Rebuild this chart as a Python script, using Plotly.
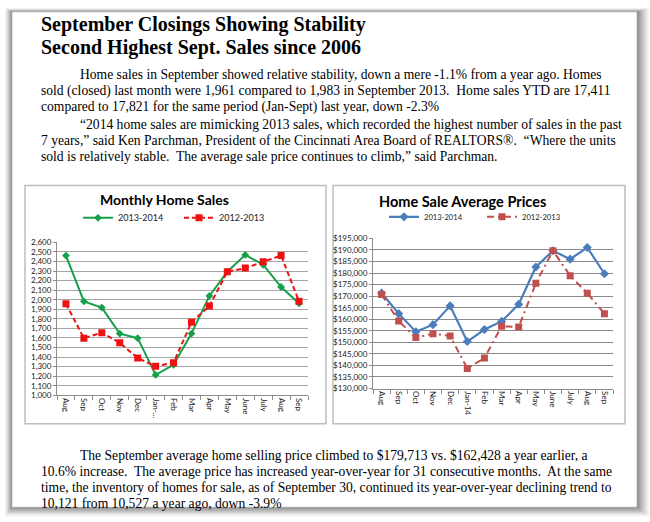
import plotly.graph_objects as go

W, H = 650, 522

# ---------------- data ----------------
months_left = ["Aug", "Sep", "Oct", "Nov", "Dec", "Jan-…", "Feb", "Mar", "Apr", "May", "June", "July", "Aug", "Sep"]
months_right = ["Aug", "Sep", "Oct", "Nov", "Dec", "Jan-14", "Feb", "Mar", "Apr", "May", "June", "July", "Aug", "Sep"]

sales_2013_2014 = [2462, 1983, 1918, 1646, 1598, 1214, 1320, 1646, 2040, 2293, 2469, 2366, 2133, 1961]
sales_2012_2013 = [1958, 1598, 1656, 1550, 1390, 1304, 1342, 1765, 1934, 2293, 2331, 2398, 2462, 1983]

price_2013_2014 = [171400, 162428, 154600, 157650, 165800, 150350, 155550, 159060, 166500, 182650, 189680, 186030, 191080, 179713]
price_2012_2013 = [170710, 159200, 152040, 153730, 152740, 138700, 143190, 156950, 156670, 175620, 189680, 178870, 171290, 162428]

series_names = ["2013-2014", "2012-2013"]

title_lines = ["September Closings Showing Stability", "Second Highest Sept. Sales since 2006"]
para1 = [
    "Home sales in September showed relative stability, down a mere -1.1% from a year ago. Homes",
    "sold (closed) last month were 1,961 compared to 1,983 in September 2013.  Home sales YTD are 17,411",
    "compared to 17,821 for the same period (Jan-Sept) last year, down -2.3%",
]
para2 = [
    "“2014 home sales are mimicking 2013 sales, which recorded the highest number of sales in the past",
    "7 years,” said Ken Parchman, President of the Cincinnati Area Board of REALTORS®.  “Where the units",
    "sold is relatively stable.  The average sale price continues to climb,” said Parchman.",
]
para3 = [
    "The September average home selling price climbed to $179,713 vs. $162,428 a year earlier, a",
    "10.6% increase.  The average price has increased year-over-year for 31 consecutive months.  At the same",
    "time, the inventory of homes for sale, as of September 30, continued its year-over-year declining trend to",
    "10,121 from 10,527 a year ago, down -3.9%",
]


def px(x):
    return x / W


def py(y):
    return 1 - y / H


idx = list(range(len(months_left)))

fig = go.Figure()

# left chart traces
fig.add_trace(go.Scatter(
    x=idx, y=sales_2013_2014, name=series_names[0], mode="lines+markers",
    line=dict(color="#16a04a", width=2), marker=dict(symbol="diamond", size=6, color="#16a04a"),
    xaxis="x", yaxis="y", legend="legend"))
fig.add_trace(go.Scatter(
    x=idx, y=sales_2012_2013, name=series_names[1], mode="lines+markers",
    line=dict(color="#ee1111", width=2, dash="5px,3px"), marker=dict(symbol="square", size=7, color="#ee1111"),
    xaxis="x", yaxis="y", legend="legend"))

# right chart traces
fig.add_trace(go.Scatter(
    x=idx, y=price_2013_2014, name=series_names[0], mode="lines+markers",
    line=dict(color="#4a7ebb", width=2.2), marker=dict(symbol="diamond", size=7, color="#4a7ebb"),
    xaxis="x2", yaxis="y2", legend="legend2"))
fig.add_trace(go.Scatter(
    x=idx, y=price_2012_2013, name=series_names[1], mode="lines+markers",
    line=dict(color="#c0504d", width=2, dash="7px,4px,2px,4px"), marker=dict(symbol="square", size=7, color="#c0504d"),
    xaxis="x2", yaxis="y2", legend="legend2"))

tickfont = dict(family="Lato", size=8, color="#222")
axis_common = dict(showline=True, linecolor="#8c8c8c", linewidth=1, zeroline=False,
                   tickfont=tickfont, ticks="outside", ticklen=3, tickcolor="#8c8c8c")

xcommon = dict(axis_common, tickmode="array", tickvals=idx, range=[-0.5, len(idx) - 0.5],
               tickangle=90, ticks="", showgrid=False,
               minor=dict(tickvals=[i - 0.5 for i in range(len(idx) + 1)], ticks="outside",
                          ticklen=4, tickcolor="#8c8c8c", showgrid=False))

fig.update_layout(
    width=W, height=H, margin=dict(l=0, r=0, t=0, b=0),
    paper_bgcolor="white", plot_bgcolor="rgba(0,0,0,0)",
    xaxis=dict(xcommon, domain=[px(57), px(308)], ticktext=months_left, anchor="y"),
    yaxis=dict(axis_common, domain=[py(398), py(242)], range=[1000, 2600], dtick=100,
               tickformat=",", showgrid=True, gridcolor="#a6a6a6", gridwidth=1, anchor="x"),
    xaxis2=dict(xcommon, domain=[px(373), px(613)], ticktext=months_right, anchor="y2"),
    yaxis2=dict(axis_common, domain=[py(391), py(238)], range=[130000, 195000], dtick=5000,
                tickformat=",", tickprefix="$", showgrid=True, gridcolor="#8a8a8a", gridwidth=1, anchor="x2"),
    legend=dict(orientation="h", x=px(78), y=py(217), xanchor="left", yanchor="middle",
                font=dict(family="Lato", size=9, color="#222"), bgcolor="rgba(0,0,0,0)",
                entrywidth=56, itemwidth=30),
    legend2=dict(orientation="h", x=px(384), y=py(216), xanchor="left", yanchor="middle",
                 font=dict(family="Lato", size=7.6, color="#222"), bgcolor="rgba(0,0,0,0)",
                 entrywidth=53, itemwidth=30),
    showlegend=True,
)

shapes = []
# page shadow (soft, stronger to right and bottom)
for i, a in enumerate([0.03, 0.04, 0.05, 0.06, 0.07, 0.08, 0.09, 0.10]):
    g = 8 - i
    shapes.append(dict(type="rect", xref="paper", yref="paper", layer="below",
                       x0=px(12 - g * 0.9), x1=px(637 + g * 1.6), y0=py(512 + g * 1.2), y1=py(7 - g * 0.5),
                       fillcolor=f"rgba(0,0,0,{a})", line=dict(width=0)))
shapes.append(dict(type="rect", xref="paper", yref="paper", layer="below",
                   x0=px(12), x1=px(637), y0=py(512), y1=py(7),
                   fillcolor="white", line=dict(width=0.6, color="#a8a8a8")))
# chart boxes
shapes.append(dict(type="rect", xref="paper", yref="paper", layer="below",
                   x0=px(25), x1=px(326), y0=py(427), y1=py(184),
                   fillcolor="white", line=dict(width=1.5, color="#bdbdbd")))
shapes.append(dict(type="rect", xref="paper", yref="paper", layer="below",
                   x0=px(333), x1=px(625), y0=py(427), y1=py(184),
                   fillcolor="white", line=dict(width=1.5, color="#bdbdbd")))
fig.update_layout(shapes=shapes)

ann = []
serif = "Liberation Serif"
for i, t in enumerate(title_lines):
    ann.append(dict(text=f"<b>{t}</b>", x=px(39), y=py(20 + i * 23.5), xref="paper", yref="paper",
                    xanchor="left", yanchor="middle", showarrow=False,
                    font=dict(family=serif, size=20, color="black")))


def add_para(lines, y0, step=16.3):
    for i, t in enumerate(lines):
        x = 78 if i == 0 else 39
        ann.append(dict(text=t, x=px(x), y=py(y0 + i * step), xref="paper", yref="paper",
                        xanchor="left", yanchor="middle", showarrow=False,
                        font=dict(family=serif, size=13.6, color="black")))


add_para(para1, 71)
add_para(para2, 121.5)
add_para(para3, 459.5)

ann.append(dict(text="<b>Monthly Home Sales</b>", x=px(164), y=py(198), xref="paper", yref="paper",
                xanchor="center", yanchor="middle", showarrow=False,
                font=dict(family="Lato", size=14, color="black")))
ann.append(dict(text="<b>Home Sale Average Prices</b>", x=px(462), y=py(200), xref="paper", yref="paper",
                xanchor="center", yanchor="middle", showarrow=False,
                font=dict(family="Lato", size=14.5, color="black")))
fig.update_layout(annotations=ann)

fig.write_html("out.html", config={"displayModeBar": False},
               post_script="document.body.style.margin='0';document.body.style.overflow='hidden';")
